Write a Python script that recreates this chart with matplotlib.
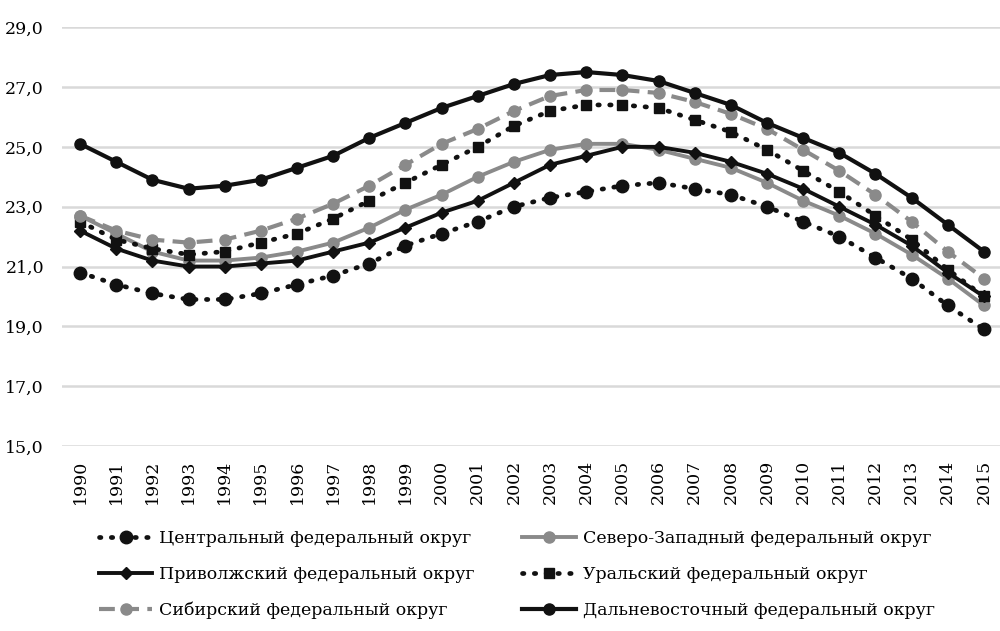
import matplotlib
matplotlib.use("Agg")
import matplotlib.pyplot as plt
from matplotlib.ticker import FuncFormatter

years = list(range(1990, 2016))

central = [20.8, 20.4, 20.1, 19.9, 19.9, 20.1, 20.4, 20.7, 21.1, 21.7, 22.1, 22.5, 23.0,
           23.3, 23.5, 23.7, 23.8, 23.6, 23.4, 23.0, 22.5, 22.0, 21.3, 20.6, 19.7, 18.9]
northwest = [22.7, 22.1, 21.5, 21.2, 21.2, 21.3, 21.5, 21.8, 22.3, 22.9, 23.4, 24.0, 24.5,
             24.9, 25.1, 25.1, 24.9, 24.6, 24.3, 23.8, 23.2, 22.7, 22.1, 21.4, 20.6, 19.7]
volga = [22.2, 21.6, 21.2, 21.0, 21.0, 21.1, 21.2, 21.5, 21.8, 22.3, 22.8, 23.2, 23.8,
         24.4, 24.7, 25.0, 25.0, 24.8, 24.5, 24.1, 23.6, 23.0, 22.4, 21.7, 20.8, 20.0]
ural = [22.5, 21.9, 21.6, 21.4, 21.5, 21.8, 22.1, 22.6, 23.2, 23.8, 24.4, 25.0, 25.7,
        26.2, 26.4, 26.4, 26.3, 25.9, 25.5, 24.9, 24.2, 23.5, 22.7, 21.9, 20.9, 20.0]
siberia = [22.7, 22.2, 21.9, 21.8, 21.9, 22.2, 22.6, 23.1, 23.7, 24.4, 25.1, 25.6, 26.2,
           26.7, 26.9, 26.9, 26.8, 26.5, 26.1, 25.6, 24.9, 24.2, 23.4, 22.5, 21.5, 20.6]
fareast = [25.1, 24.5, 23.9, 23.6, 23.7, 23.9, 24.3, 24.7, 25.3, 25.8, 26.3, 26.7, 27.1,
           27.4, 27.5, 27.4, 27.2, 26.8, 26.4, 25.8, 25.3, 24.8, 24.1, 23.3, 22.4, 21.5]

y_ticks = [15, 17, 19, 21, 23, 25, 27, 29]

BLACK = "#111111"
GREY = "#8a8a8a"
SERIF = "DejaVu Serif"
DOTS = (0, (0.3, 2.2))

fig = plt.figure(figsize=(10, 6.31), dpi=100)
ax = fig.add_axes([0.062, 0.293, 0.94, 0.664])

x = list(range(len(years)))
lines = {}
lines["c"], = ax.plot(x, central, color=BLACK, lw=3.4, ls=DOTS, dash_capstyle="round",
                      marker="o", ms=9, label="Центральный федеральный округ")
lines["nw"], = ax.plot(x, northwest, color=GREY, lw=2.8, marker="o", ms=8,
                       label="Северо-Западный федеральный округ")
lines["v"], = ax.plot(x, volga, color=BLACK, lw=2.8, marker="D", ms=6.5,
                      label="Приволжский федеральный округ")
lines["u"], = ax.plot(x, ural, color=BLACK, lw=3.4, ls=DOTS, dash_capstyle="round",
                      marker="s", ms=7.5, label="Уральский федеральный округ")
lines["s"], = ax.plot(x, siberia, color=GREY, lw=3.0, ls=(0, (3.8, 2.0)),
                      marker="o", ms=8, label="Сибирский федеральный округ")
lines["fe"], = ax.plot(x, fareast, color=BLACK, lw=3.0, marker="o", ms=8,
                       label="Дальневосточный федеральный округ")

ax.set_ylim(15, 29)
ax.set_xlim(-0.5, len(years) - 0.5)
ax.set_yticks(y_ticks)
ax.yaxis.set_major_formatter(FuncFormatter(lambda v, _: f"{v:.1f}".replace(".", ",")))
ax.set_xticks(x)
ax.set_xticklabels([str(y) for y in years], rotation=90)
for lab in ax.get_xticklabels() + ax.get_yticklabels():
    lab.set_fontfamily(SERIF)
    lab.set_fontsize(12.5)
ax.tick_params(axis="x", length=0, pad=10)
ax.tick_params(axis="y", length=0, pad=13)
ax.grid(axis="y", color="#d9d9d9", lw=1.8)
ax.set_axisbelow(True)
for sp in ax.spines.values():
    sp.set_visible(False)

order = ["c", "v", "s", "nw", "u", "fe"]
fig.legend([lines[k] for k in order], [lines[k].get_label() for k in order],
           loc="lower left", bbox_to_anchor=(0.083, -0.006), ncol=2, frameon=False,
           prop={"family": SERIF, "size": 12.5}, handlelength=3.1, columnspacing=2.7,
           labelspacing=1.08, handletextpad=0.4)

fig.savefig("out.png", dpi=100)
